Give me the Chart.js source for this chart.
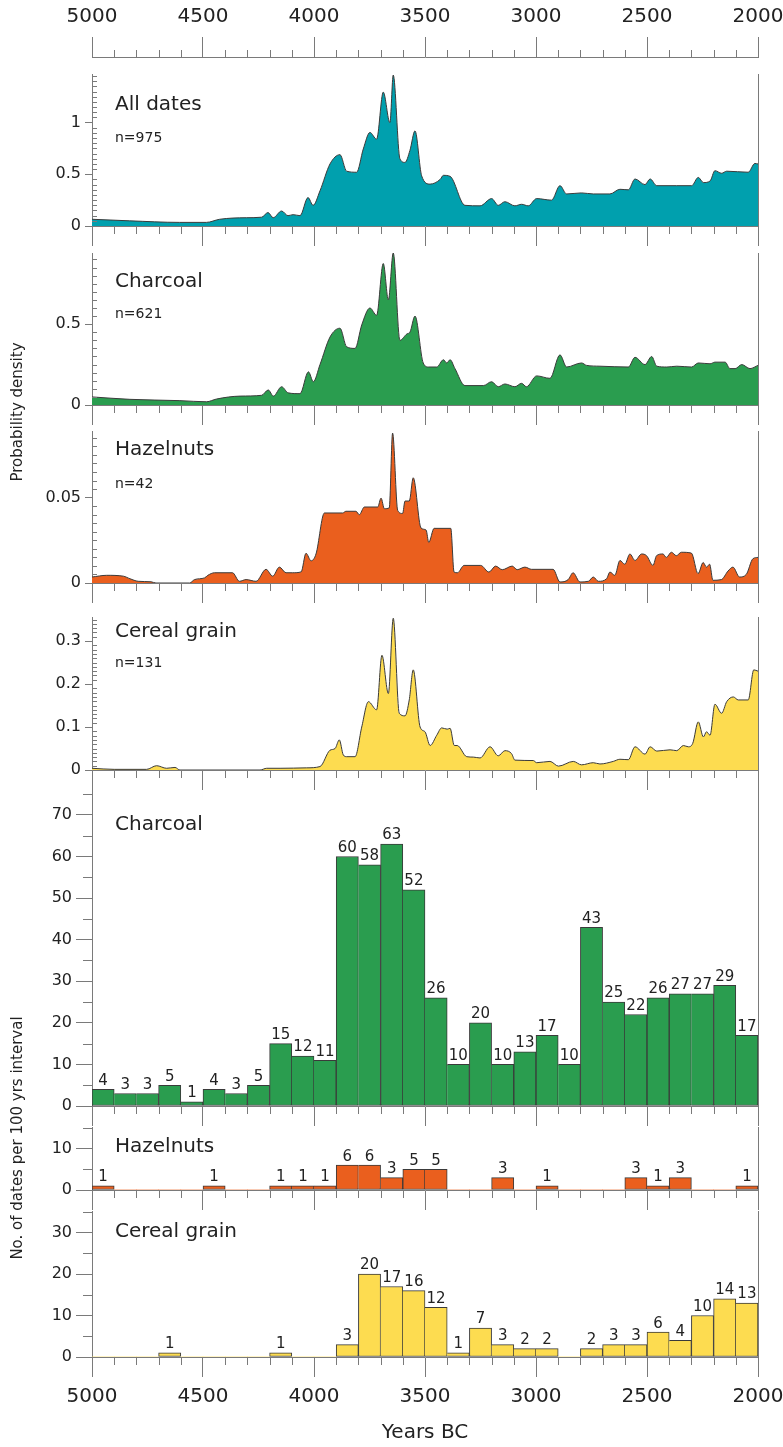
<!DOCTYPE html>
<html>
<head>
<meta charset="utf-8">
<script src="https://cdn.jsdelivr.net/npm/chart.js@4.4.1/dist/chart.umd.min.js"></script>
<style>
  body { margin: 0; background: #fff; width: 783px; height: 1447px; position: relative; overflow: hidden; }
  canvas { position: absolute; left: 0; }
  .ytitle { position: absolute; transform: translate(-50%, -50%) rotate(-90deg); white-space: nowrap;
            font: 15px "DejaVu Sans", "Liberation Sans", Arial, sans-serif; color: #222; }
</style>
</head>
<body>
<canvas id="axTop"></canvas>
<canvas id="pdAll"></canvas>
<canvas id="pdChar"></canvas>
<canvas id="pdHaz"></canvas>
<canvas id="pdCer"></canvas>
<canvas id="hChar"></canvas>
<canvas id="hHaz"></canvas>
<canvas id="hCer"></canvas>
<div class="ytitle" style="left:17px; top:412px;">Probability density</div>
<div class="ytitle" style="left:17px; top:1138px;">No. of dates per 100 yrs interval</div>
<script>
// summed probability, all dates
const allYears = [5000,4830,4605,4485,4425,4305,4236,4207,4184,4146,4117,4094,4063,4027,4004,3973,3928,3883,3853,3808,3778,3748,3718,3688,3658,3643,3613,3590,3568,3545,3515,3477,3432,3417,3387,3320,3252,3200,3170,3140,3095,3065,3035,2997,2930,2892,2862,2795,2742,2667,2622,2584,2554,2509,2486,2456,2366,2299,2269,2246,2216,2194,2164,2141,2044,2014,2000];
const allDensity = [0.065,0.05,0.035,0.035,0.065,0.08,0.085,0.13,0.08,0.145,0.10,0.11,0.10,0.275,0.20,0.34,0.60,0.69,0.53,0.52,0.745,0.905,0.84,1.295,1.00,1.46,0.65,0.615,0.73,0.92,0.485,0.405,0.45,0.49,0.48,0.20,0.195,0.265,0.20,0.235,0.195,0.21,0.195,0.265,0.25,0.39,0.31,0.32,0.31,0.31,0.355,0.35,0.455,0.40,0.455,0.39,0.39,0.39,0.47,0.42,0.435,0.535,0.51,0.53,0.52,0.605,0.60];

// charcoal
const charYears = [5000,4829,4604,4484,4439,4333,4236,4206,4183,4146,4116,4063,4025,4003,3973,3928,3883,3853,3815,3785,3748,3718,3688,3665,3643,3613,3581,3568,3545,3508,3484,3447,3417,3402,3387,3365,3320,3237,3200,3170,3140,3095,3065,3043,2997,2937,2892,2862,2795,2772,2712,2584,2554,2509,2479,2456,2411,2366,2299,2269,2216,2194,2148,2126,2103,2073,2036,2000];
const charDensity = [0.05,0.035,0.027,0.02,0.037,0.055,0.06,0.093,0.055,0.113,0.075,0.07,0.205,0.144,0.25,0.42,0.475,0.36,0.35,0.495,0.60,0.555,0.875,0.65,0.94,0.40,0.44,0.45,0.55,0.26,0.235,0.235,0.28,0.26,0.28,0.225,0.12,0.12,0.144,0.113,0.13,0.113,0.134,0.113,0.18,0.165,0.31,0.235,0.26,0.245,0.24,0.235,0.295,0.25,0.30,0.24,0.235,0.24,0.235,0.26,0.255,0.265,0.265,0.225,0.225,0.25,0.225,0.245];

// hazelnuts
const hazYears = [5000,4934,4859,4829,4792,4734,4712,4560,4538,4493,4478,4448,4367,4336,4306,4261,4216,4186,4156,4126,4096,4058,4036,4013,3991,3953,3871,3856,3811,3796,3773,3713,3698,3683,3661,3646,3623,3601,3590,3571,3553,3518,3495,3483,3459,3384,3369,3354,3324,3249,3212,3182,3152,3107,3085,3050,3020,2923,2892,2855,2833,2802,2764,2742,2719,2682,2667,2645,2622,2600,2577,2554,2524,2502,2473,2457,2428,2413,2390,2368,2345,2300,2270,2247,2232,2218,2203,2165,2135,2113,2083,2053,2023,2000];
const hazDensity = [0.0035,0.0045,0.004,0.0025,0.001,0.0007,0,0,0.002,0.003,0.0045,0.006,0.006,0.001,0.002,0.001,0.008,0.004,0.0093,0.006,0.006,0.0065,0.0174,0.013,0.017,0.041,0.041,0.042,0.042,0.040,0.0445,0.0445,0.0497,0.0435,0.044,0.0878,0.0425,0.0407,0.048,0.048,0.0616,0.0322,0.031,0.0238,0.032,0.032,0.0064,0.006,0.0103,0.0103,0.0064,0.0099,0.0078,0.0099,0.0078,0.0093,0.008,0.008,0.0006,0.002,0.006,0.0006,0.001,0.0035,0.001,0.0025,0.0064,0.0045,0.0132,0.011,0.017,0.0132,0.017,0.016,0.0103,0.016,0.017,0.015,0.018,0.016,0.018,0.0175,0.0055,0.012,0.0093,0.011,0.0016,0.002,0.007,0.0093,0.0035,0.005,0.0142,0.015];

// cereal grain
const cerYears = [5000,4900,4754,4709,4664,4626,4604,4243,4213,4153,4033,3973,3928,3905,3886,3868,3853,3815,3785,3755,3718,3694,3665,3643,3616,3590,3571,3553,3522,3500,3477,3447,3425,3400,3387,3368,3355,3312,3282,3252,3207,3170,3140,3110,3095,3012,2997,2937,2899,2832,2795,2742,2712,2652,2622,2584,2554,2509,2486,2456,2396,2366,2336,2314,2294,2269,2246,2232,2216,2194,2164,2141,2111,2089,2044,2019,2000];
const cerDensity = [0.004,0.0015,0.0015,0.01,0.004,0.006,0,0,0.004,0.004,0.005,0.008,0.046,0.05,0.07,0.035,0.031,0.031,0.10,0.159,0.14,0.267,0.178,0.353,0.132,0.126,0.163,0.233,0.10,0.089,0.057,0.081,0.098,0.095,0.097,0.057,0.057,0.031,0.03,0.028,0.054,0.033,0.045,0.038,0.023,0.022,0.017,0.02,0.009,0.02,0.012,0.017,0.014,0.02,0.025,0.024,0.054,0.037,0.054,0.044,0.047,0.045,0.057,0.054,0.062,0.112,0.077,0.089,0.081,0.153,0.132,0.159,0.17,0.163,0.163,0.233,0.23];

// counts per 100-year bin (bin centres, 5000 BC -> 2000 BC)
const binMid = [4950,4850,4750,4650,4550,4450,4350,4250,4150,4050,3950,3850,3750,3650,3550,3450,3350,3250,3150,3050,2950,2850,2750,2650,2550,2450,2350,2250,2150,2050];
const charCounts = [4,3,3,5,1,4,3,5,15,12,11,60,58,63,52,26,10,20,10,13,17,10,43,25,22,26,27,27,29,17];
const hazCounts  = [1,0,0,0,0,1,0,0,1,1,1,6,6,3,5,5,0,0,3,0,1,0,0,0,3,1,3,0,0,1];
const cerCounts  = [0,0,0,1,0,0,0,0,1,0,0,3,20,17,16,12,1,7,3,2,2,0,2,3,3,6,4,10,14,13];

const xTicks = [5000, 4500, 4000, 3500, 3000, 2500, 2000];

const FONT = '"DejaVu Sans", "Liberation Sans", Arial, sans-serif';
const AXIS = '#7a7a7a', INK = '#222', EDGE = '#3a3a3a';
Chart.defaults.font.family = FONT;
Chart.defaults.color = INK;

const minorTicks = {
  id: 'minorTicks',
  afterDraw(chart, args, o) {
    const ctx = chart.ctx, a = chart.chartArea, xs = chart.scales.x, ys = chart.scales.y;
    ctx.save();
    ctx.strokeStyle = AXIS;
    ctx.lineWidth = 1;
    ctx.beginPath();
    for (let v = 2000; v <= 5000; v += 100) {
      if (v % 500 === 0) continue;
      const px = Math.round(xs.getPixelForValue(v)) + 0.5;
      const base = o.xTop ? a.top : a.bottom;
      ctx.moveTo(px, base);
      ctx.lineTo(px, base + (o.xTop ? -o.xLen : o.xLen));
    }
    if (o.yStep) {
      const n = Math.floor(ys.max / o.yStep + 1e-6);
      for (let k = 1; k <= n; k++) {
        const v = k * o.yStep, r = v / o.yMajor;
        if (Math.abs(r - Math.round(r)) < 1e-6) continue;
        const py = Math.round(ys.getPixelForValue(v)) + 0.5;
        ctx.moveTo(a.left, py);
        ctx.lineTo(a.left + o.yLen, py);
      }
    }
    ctx.stroke();
    ctx.restore();
  }
};

const panelText = {
  id: 'panelText',
  afterDraw(chart, args, o) {
    if (!o.title) return;
    const ctx = chart.ctx, a = chart.chartArea;
    ctx.save();
    ctx.fillStyle = INK;
    ctx.textAlign = 'left';
    ctx.textBaseline = 'alphabetic';
    ctx.font = o.size + 'px ' + FONT;
    ctx.fillText(o.title, a.left + 23, a.top + o.titleY);
    if (o.n) {
      ctx.font = '14px ' + FONT;
      ctx.fillText(o.n, a.left + 23, a.top + o.nY);
    }
    ctx.restore();
  }
};

const barLabels = {
  id: 'barLabels',
  afterDatasetsDraw(chart, args, o) {
    if (!o.show) return;
    const ctx = chart.ctx, meta = chart.getDatasetMeta(0), ds = chart.data.datasets[0];
    ctx.save();
    ctx.fillStyle = INK;
    ctx.font = '15px ' + FONT;
    ctx.textAlign = 'center';
    ctx.textBaseline = 'bottom';
    meta.data.forEach((bar, i) => {
      const v = ds.data[i].y;
      if (v > 0) ctx.fillText(String(v), bar.x, bar.y - 1);
    });
    ctx.restore();
  }
};

function areaSet(years, vals, color) {
  return {
    data: years.map((x, i) => ({ x: x, y: vals[i] })),
    borderColor: EDGE, borderWidth: 1, backgroundColor: color,
    fill: 'origin', pointRadius: 0, cubicInterpolationMode: 'monotone'
  };
}

function barSet(counts, color) {
  return {
    data: binMid.map((x, i) => ({ x: x, y: counts[i] })),
    backgroundColor: color, borderColor: EDGE,
    borderWidth: c => (c.raw && c.raw.y > 0 ? 1 : 0),
    borderSkipped: c => {
      const i = c.dataIndex;
      return i > 0 && counts[i - 1] >= counts[i] ? 'left' : false;
    },
    barPercentage: 1, categoryPercentage: 1
  };
}

function fitX(h) {
  return s => { s.height = h; s.paddingLeft = 0; s.paddingRight = 0; };
}

function panel(id, top, zero, cfg) {
  const padTop = 14;
  const bottomH = cfg.bottomH || 22;
  const cv = document.getElementById(id);
  cv.width = 783;
  cv.height = (zero - top) + padTop + bottomH;
  cv.style.top = (top - padTop) + 'px';
  return new Chart(cv, {
    type: cfg.type,
    data: { datasets: [cfg.dataset] },
    options: {
      responsive: false,
      animation: false,
      events: [],
      layout: { padding: { top: padTop, right: 25, left: 0, bottom: 0 } },
      plugins: {
        legend: { display: false },
        tooltip: { enabled: false },
        minorTicks: { xLen: 8, yStep: cfg.yMinor, yMajor: cfg.yMajor, yLen: cfg.yMinorLen },
        panelText: { title: cfg.title, n: cfg.n, titleY: cfg.titleY, nY: cfg.nY, size: cfg.titleSize || 20 },
        barLabels: { show: cfg.type === 'bar' }
      },
      scales: {
        x: {
          type: 'linear', min: 2000, max: 5000, reverse: true, position: 'bottom', offset: false,
          afterFit: fitX(bottomH),
          afterBuildTicks: s => { s.ticks = xTicks.map(v => ({ value: v })); },
          ticks: { display: !!cfg.xLabels, font: { size: 20 }, color: INK, padding: 8, maxRotation: 0, autoSkip: false,
                   callback: v => String(v) },
          grid: { drawOnChartArea: false, offset: false, tickLength: 20, color: AXIS },
          border: { color: AXIS },
          title: { display: !!cfg.xLabels, text: 'Years BC', font: { size: 20 }, color: INK, padding: { top: 0, bottom: 2 } }
        },
        y: {
          type: 'linear', min: 0, max: cfg.ymax, position: 'left',
          afterFit: s => { s.width = 92; },
          ticks: { stepSize: cfg.yMajor, includeBounds: false, font: { size: 16 }, color: INK, padding: 4,
                   callback: v => String(+v.toFixed(4)) },
          grid: { drawOnChartArea: false, tickLength: cfg.yTick, color: AXIS },
          border: { color: AXIS }
        },
        yR: {
          position: 'right',
          afterFit: s => { s.width = 0; },
          ticks: { display: false },
          grid: { drawOnChartArea: false, drawTicks: false },
          border: { display: true, color: AXIS }
        }
      }
    },
    plugins: [minorTicks, panelText, barLabels]
  });
}

// top scale
(function () {
  const cv = document.getElementById('axTop');
  cv.width = 783; cv.height = 60; cv.style.top = '0px';
  new Chart(cv, {
    type: 'line',
    data: { datasets: [] },
    options: {
      responsive: false, animation: false, events: [],
      layout: { padding: { left: 92, right: 25, top: 0, bottom: 0 } },
      plugins: { legend: { display: false }, tooltip: { enabled: false }, minorTicks: { xTop: true, xLen: 7 },
                 panelText: {}, barLabels: {} },
      scales: {
        x: {
          type: 'linear', min: 2000, max: 5000, reverse: true, position: 'top',
          afterFit: fitX(57),
          afterBuildTicks: s => { s.ticks = xTicks.map(v => ({ value: v })); },
          ticks: { font: { size: 20 }, color: INK, padding: 8, maxRotation: 0, autoSkip: false,
                   callback: v => String(v) },
          grid: { drawOnChartArea: false, tickLength: 20, color: AXIS },
          border: { color: AXIS }
        },
        y: { display: false, min: 0, max: 1 }
      }
    },
    plugins: [minorTicks, panelText, barLabels]
  });
})();

panel('pdAll', 74, 226, { type: 'line', dataset: areaSet(allYears, allDensity, '#00a0ae'),
  ymax: 1.47, yMajor: 0.5, yMinor: 0.05, yTick: 7, yMinorLen: 5, title: 'All dates', n: 'n=975', titleY: 36, nY: 68 });
panel('pdChar', 253, 405, { type: 'line', dataset: areaSet(charYears, charDensity, '#2a9d4f'),
  ymax: 0.94, yMajor: 0.5, yMinor: 0.05, yTick: 7, yMinorLen: 5, title: 'Charcoal', n: 'n=621', titleY: 34, nY: 65 });
panel('pdHaz', 431, 583, { type: 'line', dataset: areaSet(hazYears, hazDensity, '#ea5f1e'),
  ymax: 0.089, yMajor: 0.05, yMinor: 0.005, yTick: 7, yMinorLen: 5, title: 'Hazelnuts', n: 'n=42', titleY: 24, nY: 57 });
panel('pdCer', 617, 770, { type: 'line', dataset: areaSet(cerYears, cerDensity, '#fddc50'),
  ymax: 0.356, yMajor: 0.1, yMinor: 0.01, yTick: 7, yMinorLen: 5, title: 'Cereal grain', n: 'n=131', titleY: 20, nY: 50 });

panel('hChar', 790, 1106, { type: 'bar', dataset: barSet(charCounts, '#2a9d4f'),
  ymax: 76, yMajor: 10, yMinor: 5, yTick: 16, yMinorLen: -9, title: 'Charcoal', titleY: 40 });
panel('hHaz', 1127, 1190, { type: 'bar', dataset: barSet(hazCounts, '#ea5f1e'),
  ymax: 15.2, yMajor: 10, yMinor: 5, yTick: 16, yMinorLen: -9, title: 'Hazelnuts', titleY: 25 });
panel('hCer', 1211, 1357, { type: 'bar', dataset: barSet(cerCounts, '#fddc50'),
  ymax: 35.2, yMajor: 10, yMinor: 5, yTick: 16, yMinorLen: -9, title: 'Cereal grain', titleY: 26,
  xLabels: true, bottomH: 90 });
</script>
</body>
</html>
